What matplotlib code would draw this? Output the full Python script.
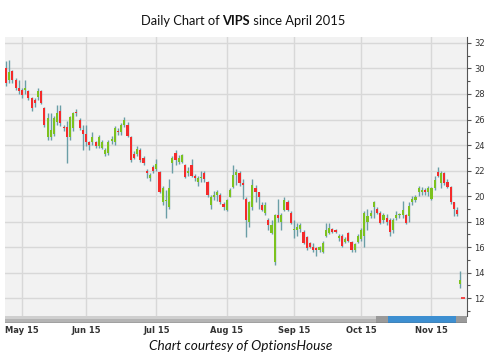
import matplotlib
matplotlib.use("Agg")
import matplotlib.pyplot as plt
import pandas as pd
from matplotlib.patches import Rectangle

# ---------- Data ----------
opens = [30.0, 29.1, 29.8, 29.1, 28.5, 28.3, 28.3, 28.2, 27.7, 27.5,
         27.8, 28.2, 26.9, 24.6, 24.6, 24.9, 25.8, 26.7, 25.4, 25.4,
         24.6, 25.3, 26.6, 26.0, 25.2, 24.9, 24.25, 24.2, 24.2, 23.9,
         23.8, 23.3, 23.4, 24.3, 24.2, 25.1, 25.0, 25.6, 25.6, 24.6,
         23.3, 23.3, 23.6, 23.0, 22.0, 21.4, 22.3, 22.1, 21.9, 19.5,
         19.6, 19.1, 22.6, 23.4, 22.7, 22.7, 22.4, 21.8, 22.4, 21.6,
         21.1, 21.4, 21.8, 21.1, 19.3, 19.9, 20.1, 20.1, 19.4, 18.9,
         19.95, 20.7, 21.65, 21.8, 21.0, 19.8, 18.0, 19.1, 20.6, 20.3,
         19.3, 18.7, 18.1, 17.1, 14.8, 18.5, 18.0, 18.9, 19.5, 18.7,
         17.3, 17.3, 17.4, 17.2, 16.8, 16.3, 16.0, 15.9, 15.75, 15.6,
         16.9, 17.1, 17.4, 17.3, 16.7, 16.9, 16.4, 17.1, 16.4, 15.8,
         16.4, 16.6, 16.9, 18.0, 18.4, 19.1, 19.0, 18.7, 18.1, 18.3,
         18.1, 17.3, 18.3, 18.5, 18.5, 18.5, 18.4, 19.5, 19.7, 20.3,
         20.3, 20.5, 20.3, 19.8, 20.6, 21.9, 21.0, 21.8, 21.1, 20.7,
         19.5, 18.9, 13.1]
closes = [28.9, 29.7, 29.1, 28.5, 28.2, 27.9, 28.5, 27.7, 26.9, 27.3,
          28.2, 27.3, 25.6, 26.1, 25.2, 26.1, 26.5, 25.7, 25.3, 24.6,
          26.2, 26.5, 26.5, 25.3, 24.9, 24.2, 24.0, 24.6, 23.9, 24.6,
          24.2, 23.6, 24.2, 24.5, 25.3, 25.0, 25.6, 26.0, 24.7, 22.8,
          23.0, 23.7, 22.8, 22.6, 21.8, 21.65, 21.95, 22.5, 20.3, 20.6,
          19.7, 20.6, 23.0, 22.8, 23.0, 23.2, 21.5, 22.0, 21.6, 21.4,
          21.4, 21.5, 21.3, 20.1, 19.9, 20.1, 20.3, 19.5, 19.1, 19.7,
          20.5, 21.65, 21.9, 21.0, 20.85, 18.1, 19.5, 20.9, 20.3, 19.9,
          18.9, 19.3, 17.7, 17.7, 18.5, 18.3, 18.5, 19.7, 18.9, 17.9,
          17.35, 17.6, 17.7, 16.3, 15.9, 16.0, 15.8, 15.8, 16.0, 16.3,
          17.3, 17.5, 17.2, 17.2, 16.9, 16.1, 16.6, 16.5, 15.8, 16.2,
          16.9, 17.3, 18.7, 18.4, 18.7, 19.5, 18.7, 17.9, 18.5, 17.95,
          17.2, 18.1, 18.5, 18.6, 18.9, 17.9, 19.2, 19.8, 19.9, 20.6,
          20.5, 20.3, 20.6, 20.6, 21.25, 21.6, 21.8, 21.0, 20.7, 19.5,
          19.0, 18.55, 13.4]
highs = [30.6, 30.7, 29.9, 29.25, 29.1, 28.5, 29.1, 28.3, 27.8, 27.7,
         28.5, 28.3, 27.0, 26.5, 26.5, 26.3, 27.1, 27.1, 25.6, 25.9,
         26.3, 26.6, 26.8, 26.1, 25.6, 25.6, 24.3, 25.0, 24.3, 24.8,
         24.4, 23.8, 24.4, 24.7, 25.5, 25.3, 25.7, 26.2, 25.8, 24.7,
         23.5, 23.9, 23.8, 23.1, 22.1, 21.8, 22.4, 22.9, 22.0, 20.8,
         20.5, 21.3, 23.1, 23.6, 23.2, 23.3, 22.5, 22.3, 22.9, 21.7,
         21.6, 22.0, 22.0, 21.2, 20.1, 20.4, 20.5, 20.2, 19.5, 19.8,
         20.6, 22.4, 22.1, 22.0, 21.3, 19.9, 19.6, 21.3, 20.9, 20.35,
         19.5, 19.5, 18.3, 18.1, 18.6, 19.8, 18.7, 19.9, 19.7, 18.8,
         18.1, 17.9, 17.9, 17.3, 16.9, 16.4, 16.3, 16.0, 16.1, 16.5,
         17.9, 17.9, 17.5, 17.4, 17.0, 17.0, 16.8, 17.2, 16.5, 16.3,
         17.0, 17.5, 18.8, 19.0, 18.9, 19.6, 19.1, 18.8, 18.7, 18.6,
         18.3, 18.3, 18.8, 18.7, 19.6, 18.6, 19.5, 20.0, 20.1, 20.8,
         20.7, 20.6, 20.8, 20.7, 21.6, 22.3, 22.0, 21.9, 21.3, 20.8,
         19.5, 19.1, 14.1]
lows = [28.6, 28.9, 28.9, 28.3, 28.0, 27.7, 28.0, 27.5, 26.7, 27.0,
        27.5, 27.2, 25.4, 24.4, 24.4, 24.7, 25.6, 25.5, 25.1, 22.6,
        24.4, 25.1, 26.3, 25.2, 23.6, 23.9, 23.6, 24.0, 23.8, 23.8,
        23.7, 23.1, 23.2, 24.1, 24.0, 24.8, 24.8, 25.4, 24.6, 22.7,
        22.9, 23.1, 22.7, 22.4, 21.4, 21.2, 21.8, 22.0, 20.2, 19.3,
        18.3, 19.0, 21.8, 22.4, 22.5, 22.6, 21.4, 21.6, 21.5, 21.2,
        20.8, 21.1, 21.1, 19.9, 19.0, 19.7, 19.6, 19.4, 18.9, 18.8,
        19.9, 20.6, 20.9, 20.8, 19.8, 16.8, 17.6, 18.9, 19.5, 19.0,
        18.8, 18.5, 17.3, 17.0, 14.6, 18.0, 17.3, 18.8, 18.8, 17.8,
        16.7, 16.9, 17.2, 16.2, 15.8, 15.9, 15.6, 15.3, 15.6, 15.5,
        16.8, 17.0, 17.1, 17.1, 16.5, 16.0, 16.3, 16.4, 15.6, 15.6,
        16.3, 16.5, 16.0, 17.3, 18.3, 18.3, 18.6, 17.8, 17.9, 17.7,
        16.9, 17.1, 18.1, 18.3, 18.3, 17.8, 18.0, 19.3, 19.5, 20.0,
        20.1, 20.1, 20.0, 19.7, 20.5, 21.5, 20.6, 20.9, 20.6, 19.4,
        18.4, 18.4, 12.8]
last_price = 12.0

holidays = ["2015-05-25", "2015-07-03", "2015-09-07"]
dates = pd.bdate_range("2015-04-24", periods=len(opens) + 3)
dates = dates[~dates.isin(pd.to_datetime(holidays))][:len(opens)]

month_starts = ["2015-05-01", "2015-06-01", "2015-07-01", "2015-08-03",
                "2015-09-01", "2015-10-01", "2015-11-02"]

# ---------- Figure ----------
W, H = 487, 359
fig = plt.figure(figsize=(W / 100, H / 100), dpi=100)
fig.patch.set_facecolor("white")

def fx(px):
    return px / W

def fy(py):
    return 1 - py / H

ax = fig.add_axes([fx(5), fy(316), fx(467) - fx(5), fy(37) - fy(316)])
ax.set_facecolor("#f2f2f2")

n = len(opens)
idx = list(range(n))
green, red, wick = "#7cc21e", "#f42b2b", "#6a9ea6"

ax.vlines(idx, lows, highs, color=wick, lw=1.0, zorder=3)
for i in idx:
    o, c = opens[i], closes[i]
    lo = min(o, c)
    h = max(abs(c - o), 0.09)
    ax.bar(i, h, bottom=lo, width=0.65, color=green if c >= o else red,
           lw=0, zorder=4)
ax.plot([n - 1 + 0.8], [last_price], marker="_", color=red, ms=3, mew=1.2,
        zorder=5)

ax.set_xlim(-0.3, n + 1.1)
ax.set_ylim(10.59, 32.47)

# gridlines
tick_pos = [int(dates.searchsorted(pd.Timestamp(d))) for d in month_starts]
tick_lab = [pd.Timestamp(d).strftime("%b %y") for d in month_starts]
for t in tick_pos:
    ax.axvline(t, color="#d8d8d8", lw=1.0, zorder=1)
for v in range(12, 33, 2):
    ax.axhline(v, color="#d8d8d8", lw=1.0, zorder=1)

ax.set_xticks(tick_pos)
ax.set_xticklabels(tick_lab)
ax.tick_params(axis="x", length=0, pad=7.5, labelsize=6, labelcolor="#333333")
for lab in ax.get_xticklabels():
    lab.set_fontweight("bold")

ax.yaxis.tick_right()
ax.set_yticks(range(12, 33, 2))
ax.set_yticks(range(11, 33, 1), minor=True)
ax.tick_params(axis="y", which="major", length=3, width=0.8, color="#555555",
               labelsize=6, labelcolor="#333333", pad=2)
ax.tick_params(axis="y", which="minor", length=2, width=0.8, color="#555555")

for s in ["top", "left", "bottom"]:
    ax.spines[s].set_visible(False)
ax.spines["right"].set_color("#555555")
ax.spines["right"].set_linewidth(0.8)

# ---------- Scrollbar ----------
sb = fig.add_axes([fx(5), fy(323), fx(467) - fx(5), fy(316) - fy(323)])
sb.set_xlim(5, 467)
sb.set_ylim(0, 1)
sb.axis("off")
sb.add_patch(Rectangle((5, 0), 462, 1, color="#b4b4b4", lw=0))
sb.add_patch(Rectangle((5, 0.55), 462, 0.45, color="#cfcfcf", lw=0))
sb.add_patch(Rectangle((388, 0.05), 70, 0.9, color="#3d8fd1", lw=0))
sb.add_patch(Rectangle((376, 0.05), 12, 0.9, color="#9a9a9a", lw=0))
sb.add_patch(Rectangle((456, 0.05), 11, 0.9, color="#9a9a9a", lw=0))
sb.plot([5, 467], [0.02, 0.02], color="#555555", lw=1.0)

# ---------- Title and caption ----------
fig.canvas.draw()
r = fig.canvas.get_renderer()
title_parts = [("Daily Chart of ", "normal"), ("VIPS", "bold"),
               (" since April 2015", "normal")]
texts = []
for s, w in title_parts:
    texts.append(fig.text(0, fy(21), s, fontsize=9.3, fontweight=w,
                          family="Lato", va="center", ha="left",
                          color="#111111"))
widths = [t.get_window_extent(r).width for t in texts]
x0 = 243 - sum(widths) / 2
for t, w in zip(texts, widths):
    t.set_x(x0 / W)
    x0 += w

fig.text(fx(241), fy(346), "Chart courtesy of OptionsHouse", fontsize=9.8,
         style="italic", family="Lato", ha="center", va="center",
         color="#111111")

fig.savefig("out.png", dpi=100)
